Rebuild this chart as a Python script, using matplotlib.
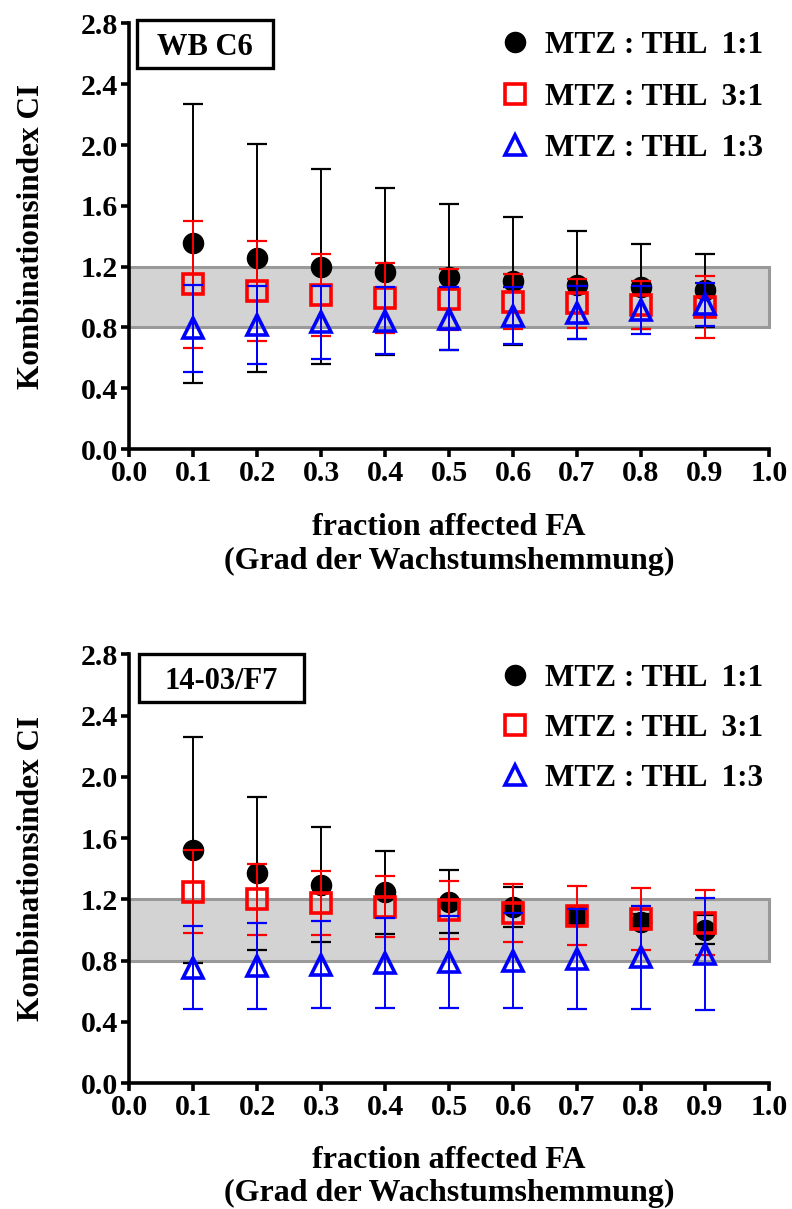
import numpy as np
import matplotlib.pyplot as plt
from matplotlib.lines import Line2D
from matplotlib.patches import Rectangle

# dane
fa = [0.1, 0.2, 0.3, 0.4, 0.5, 0.6, 0.7, 0.8, 0.9]
etykiety = ["MTZ : THL  1:1", "MTZ : THL  3:1", "MTZ : THL  1:3"]

wb_c6_11 = [1.353, 1.255, 1.200, 1.167, 1.134, 1.107, 1.079, 1.068, 1.046]
wb_c6_11_sd = [0.917, 0.750, 0.640, 0.550, 0.480, 0.420, 0.355, 0.280, 0.240]
wb_c6_31 = [1.083, 1.039, 1.013, 0.996, 0.985, 0.969, 0.958, 0.947, 0.936]
wb_c6_31_sd = [0.420, 0.330, 0.270, 0.230, 0.200, 0.180, 0.160, 0.160, 0.205]
wb_c6_13 = [0.794, 0.817, 0.835, 0.845, 0.857, 0.876, 0.897, 0.914, 0.953]
wb_c6_13_sd = [0.285, 0.258, 0.240, 0.222, 0.207, 0.188, 0.175, 0.157, 0.142]

f7_11 = [1.523, 1.370, 1.294, 1.246, 1.185, 1.152, 1.092, 1.054, 1.000]
f7_11_sd = [0.740, 0.500, 0.375, 0.270, 0.207, 0.130, 0.050, 0.050, 0.095]
f7_31 = [1.250, 1.200, 1.174, 1.152, 1.131, 1.113, 1.094, 1.072, 1.048]
f7_31_sd = [0.270, 0.230, 0.210, 0.200, 0.190, 0.190, 0.190, 0.200, 0.210]
f7_13 = [0.753, 0.762, 0.773, 0.782, 0.790, 0.800, 0.810, 0.820, 0.842]
f7_13_sd = [0.270, 0.280, 0.285, 0.294, 0.300, 0.310, 0.325, 0.336, 0.365]

plt.rcParams['font.family'] = ['Liberation Serif', 'DejaVu Serif']
plt.rcParams['font.weight'] = 'bold'

FONT_TICK = 21.5
FONT_YLAB = 22.5
FONT_XLAB = 23
FONT_BOX = 22
FONT_LEG = 22.5


def rysujPanel(fig, rect, nazwa, ramka, serie, sd, odstep, leg_y, xlab_y):
    ax = fig.add_axes(rect)
    ax.set_xlim(0, 1.0)
    ax.set_ylim(0, 2.8)

    # szary pas addytywnosci 0.8 - 1.2
    ax.add_patch(Rectangle((0, 0.8), 1.0, 0.4, facecolor='#d3d3d3',
                           edgecolor='#999999', linewidth=2.2, zorder=1,
                           clip_on=False))

    style = [
        dict(marker='o', ms=14.5, mfc='black', mec='black', color='black', mew=1),
        dict(marker='s', ms=14.5, mfc='none', mec='red', color='red', mew=2.6),
        dict(marker='^', ms=15, mfc='none', mec='blue', color='blue', mew=2.6),
    ]
    for i in range(3):
        st = style[i]
        ax.errorbar(fa, serie[i], yerr=sd[i], fmt='none', ecolor=st['color'],
                    elinewidth=1.4, capsize=7.5, capthick=1.6, zorder=2 + i)
        ax.plot(fa, serie[i], linestyle='none', marker=st['marker'],
                markersize=st['ms'], markerfacecolor=st['mfc'],
                markeredgecolor=st['mec'], markeredgewidth=st['mew'],
                zorder=2.5 + i)

    for s in ['top', 'right']:
        ax.spines[s].set_visible(False)
    for s in ['left', 'bottom']:
        ax.spines[s].set_linewidth(2.6)
    ax.set_xticks(np.arange(0, 1.01, 0.1))
    ax.set_yticks(np.arange(0, 2.81, 0.4))
    ax.set_xticklabels(["{:.1f}".format(v) for v in np.arange(0, 1.01, 0.1)])
    ax.set_yticklabels(["{:.1f}".format(v) for v in np.arange(0, 2.81, 0.4)])
    ax.tick_params(direction='out', length=6, width=2.6, labelsize=FONT_TICK, pad=2)

    ax.set_ylabel("Kombinationsindex CI", fontsize=FONT_YLAB, fontweight='bold')
    ax.yaxis.set_label_coords(-0.13, 0.5)
    ax.set_xlabel("fraction affected FA\n(Grad der Wachstumshemmung)",
                  fontsize=FONT_XLAB, fontweight='bold', linespacing=1.2)
    ax.xaxis.set_label_coords(0.5, xlab_y)

    # ramka z nazwa szczepu
    x0, y0, x1, y1 = ramka
    ax.add_patch(Rectangle((x0, y0), x1 - x0, y1 - y0, transform=ax.transAxes,
                           facecolor='white', edgecolor='black', linewidth=2.4,
                           clip_on=False, zorder=6))
    ax.text((x0 + x1) / 2, (y0 + y1) / 2, nazwa, transform=ax.transAxes,
            fontsize=FONT_BOX, fontweight='bold', va='center_baseline',
            ha='center', zorder=7)

    uchwyty = []
    for i in range(3):
        st = style[i]
        uchwyty.append(Line2D([], [], linestyle='none', marker=st['marker'],
                              markersize=st['ms'], markerfacecolor=st['mfc'],
                              markeredgecolor=st['mec'], markeredgewidth=st['mew']))
    ax.legend(uchwyty, etykiety, loc='upper right', bbox_to_anchor=(1.03, leg_y),
              frameon=False, fontsize=FONT_LEG, handlelength=1.0,
              handletextpad=0.45, labelspacing=odstep, borderpad=0.3)
    return ax


fig = plt.figure(figsize=(7.92, 12.09), dpi=100)

rysujPanel(fig, [0.163, 0.6286, 0.808, 0.352], "WB C6",
           (0.0125, 0.895, 0.225, 1.008),
           [wb_c6_11, wb_c6_31, wb_c6_13], [wb_c6_11_sd, wb_c6_31_sd, wb_c6_13_sd],
           0.72, 1.04, -0.151)
rysujPanel(fig, [0.163, 0.1042, 0.808, 0.3546], "14-03/F7",
           (0.0156, 0.889, 0.2734, 1.0),
           [f7_11, f7_31, f7_13], [f7_11_sd, f7_31_sd, f7_13_sd],
           0.66, 1.035, -0.146)

fig.savefig("out.png", dpi=100)
